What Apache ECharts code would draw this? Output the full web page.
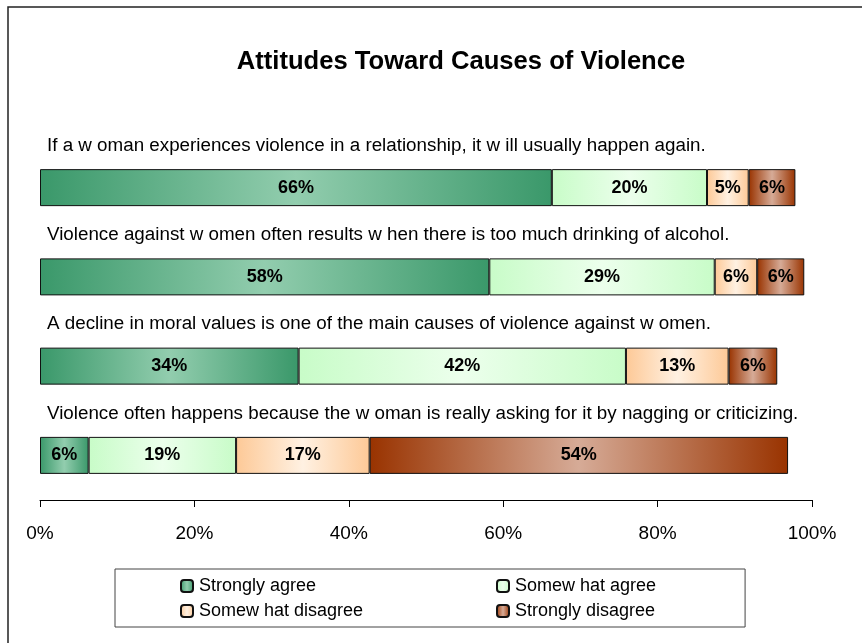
<!DOCTYPE html>
<html>
<head>
<meta charset="utf-8">
<script src="https://cdn.jsdelivr.net/npm/echarts@6/dist/echarts.min.js"></script>
<style>
html,body{margin:0;padding:0;background:#fff;}
#c{width:862px;height:643px;}
</style>
</head>
<body>
<div id="c"></div>
<script>
const titleText = 'Attitudes Toward Causes of Violence';
const categories = [
  'If a w oman experiences violence in a relationship, it w ill usually happen again.',
  'Violence against w omen often results w hen there is too much drinking of alcohol.',
  'A decline in moral values is one of the main causes of violence against w omen.',
  'Violence often happens because the w oman is really asking for it by nagging or criticizing.'
];
const seriesNames = ['Strongly agree', 'Somew hat agree', 'Somew hat disagree', 'Strongly disagree'];
const stronglyAgree = [66.3, 58.2, 33.5, 6.3];
const somewhatAgree = [20.1, 29.2, 42.4, 19.1];
const somewhatDisagree = [5.4, 5.5, 13.3, 17.3];
const stronglyDisagree = [6.05, 6.1, 6.3, 54.2];
const xMin = 0, xMax = 100, xStep = 20;

const FONT = '"Liberation Sans", Arial, sans-serif';
function grad(edge, mid) {
  return new echarts.graphic.LinearGradient(0, 0, 1, 0, [
    { offset: 0, color: edge },
    { offset: 0.5, color: mid },
    { offset: 1, color: edge }
  ]);
}
const fills = [
  grad('#3a986a', '#92cdae'),
  grad('#c8fcc8', '#ecffec'),
  grad('#fdc997', '#fff1e2'),
  grad('#993300', '#d6ab97')
];
const values = [stronglyAgree, somewhatAgree, somewhatDisagree, stronglyDisagree];

const series = seriesNames.map((name, i) => ({
  name: name,
  type: 'bar',
  stack: 'total',
  barWidth: 37,
  xAxisIndex: 0,
  yAxisIndex: 0,
  data: values[i],
  itemStyle: { color: fills[i], borderColor: '#111', borderWidth: 1 },
  label: {
    show: true,
    position: 'inside',
    formatter: p => Math.round(p.value) + '%',
    color: '#000',
    fontFamily: FONT,
    fontWeight: 'bold',
    fontSize: 18
  },
  emphasis: { disabled: true }
}));

const legendText = { fontFamily: FONT, fontSize: 18, color: '#000', lineHeight: 16, padding: [0, 0, 0, 1] };

const chart = echarts.init(document.getElementById('c'), null, { renderer: 'canvas' });
chart.setOption({
  animation: false,
  backgroundColor: '#fff',
  title: {
    text: titleText,
    left: 456,
    textAlign: 'center',
    top: 44,
    textStyle: { fontFamily: FONT, fontWeight: 'bold', fontSize: 25.6, color: '#000' }
  },
  graphic: [{
    type: 'rect',
    shape: { x: 8, y: 7, width: 1200, height: 1200 },
    style: { fill: 'none', stroke: '#222', lineWidth: 1.5 },
    silent: true,
    z: -1
  }],
  legend: [{
    data: [seriesNames[0], seriesNames[2]],
    orient: 'vertical',
    left: 115,
    top: 569,
    padding: [8, 382, 7, 65],
    itemGap: 7,
    itemWidth: 12,
    itemHeight: 12,
    borderColor: '#444',
    borderWidth: 1,
    textStyle: legendText,
    selectedMode: false
  }, {
    data: [seriesNames[1], seriesNames[3]],
    orient: 'vertical',
    left: 496,
    top: 569,
    padding: [8, 0, 7, 0],
    itemGap: 7,
    itemWidth: 12,
    itemHeight: 12,
    textStyle: legendText,
    selectedMode: false
  }],
  grid: [
    { left: 40, right: 50, top: 143, bottom: 143 },
    { left: 40, right: 50, top: 101, bottom: 185 }
  ],
  xAxis: [{
    type: 'value',
    gridIndex: 0,
    min: xMin,
    max: xMax,
    interval: xStep,
    axisLine: { show: true, lineStyle: { color: '#000', width: 1 } },
    axisTick: { show: true, length: 7, lineStyle: { color: '#000' } },
    splitLine: { show: false },
    axisLabel: {
      formatter: '{value}%',
      margin: 24,
      fontFamily: FONT,
      fontSize: 19,
      color: '#000'
    }
  }, {
    type: 'value',
    gridIndex: 1,
    min: xMin,
    max: xMax,
    show: false
  }],
  yAxis: [{
    type: 'category',
    gridIndex: 0,
    inverse: true,
    data: categories,
    axisLine: { show: false },
    axisTick: { show: false },
    axisLabel: { show: false }
  }, {
    type: 'category',
    gridIndex: 1,
    inverse: true,
    data: categories,
    axisLine: { show: false },
    axisTick: { show: false },
    splitLine: { show: false },
    axisLabel: {
      show: true,
      interval: 0,
      align: 'left',
      margin: -7,
      fontFamily: FONT,
      fontSize: 18.8,
      color: '#000'
    }
  }],
  series: series
});
</script>
</body>
</html>
